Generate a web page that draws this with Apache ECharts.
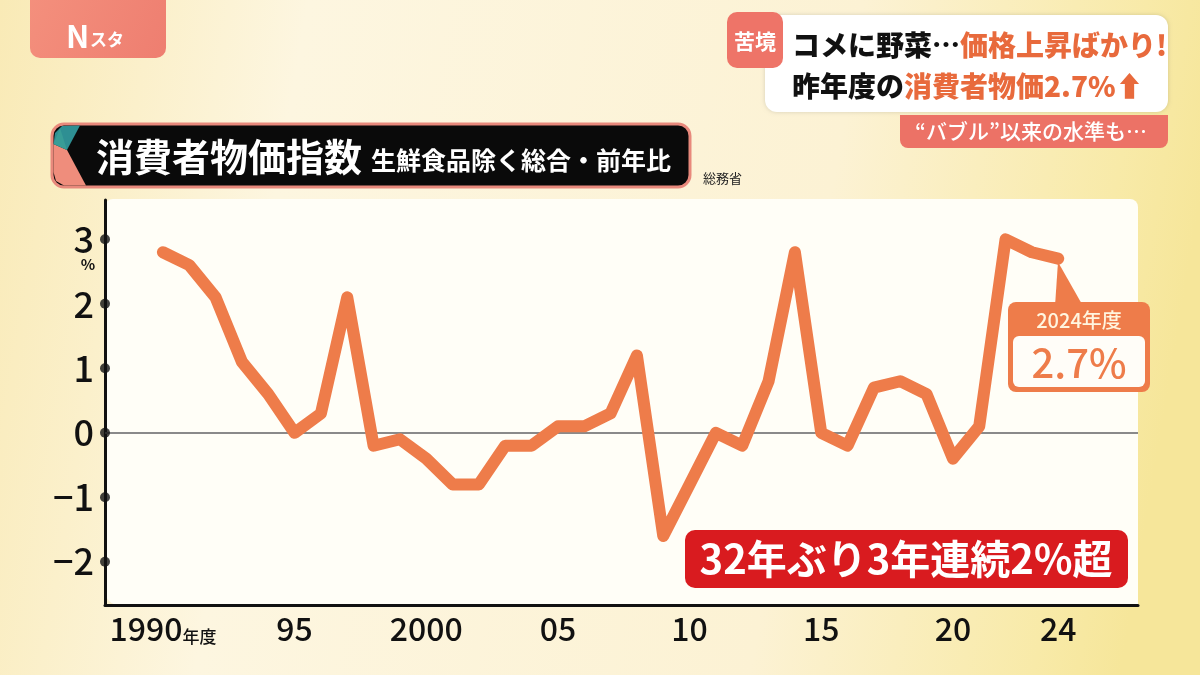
<!DOCTYPE html>
<html><head><meta charset="utf-8">
<script src="https://cdn.jsdelivr.net/npm/echarts@6/dist/echarts.min.js"></script>
<style>html,body{margin:0;padding:0;}#c{width:1200px;height:675px;}</style>
</head><body><div id="c"></div>
<script>
const years = [1990,1991,1992,1993,1994,1995,1996,1997,1998,1999,2000,2001,2002,2003,2004,2005,2006,2007,2008,2009,2010,2011,2012,2013,2014,2015,2016,2017,2018,2019,2020,2021,2022,2023,2024];
const cpiChange = [2.8,2.6,2.1,1.1,0.6,0.0,0.3,2.1,-0.2,-0.1,-0.4,-0.8,-0.8,-0.2,-0.2,0.1,0.1,0.3,1.2,-1.6,-0.8,0.0,-0.2,0.8,2.8,0.0,-0.2,0.7,0.8,0.6,-0.4,0.1,3.0,2.8,2.7];
const xTickValues = [1990,1995,2000,2005,2010,2015,2020,2024];
const xTickLabels = ['1990','95','2000','05','10','15','20','24'];
const yTickValues = [-2,-1,0,1,2,3];
const yTickLabels = ['−2','−1','0','1','2','3'];

const FONT = '"Noto Sans CJK JP", "Noto Sans", sans-serif';
const ORANGE = '#EE7C4A';
const chart = echarts.init(document.getElementById('c'), null, {renderer:'canvas'});
const X_MIN = 1987.8, X_MAX = 2027.03, Y_MIN = -2.67, Y_MAX = 3.61;

chart.setOption({
  backgroundColor: {
    type:'linear', x:0, y:0, x2:1, y2:0.3,
    colorStops:[
      {offset:0, color:'#F9EAB6'},
      {offset:0.25, color:'#FDF6E0'},
      {offset:0.7, color:'#FCF2D4'},
      {offset:0.93, color:'#F8EAA8'},
      {offset:1, color:'#F6E69A'}
    ]
  },
  textStyle:{fontFamily:FONT},
  animation:false,
  grid:{left:105, right:62, top:200, bottom:70, containLabel:false},
  xAxis:{
    type:'value', min:X_MIN, max:X_MAX,
    axisLine:{show:true, onZero:false, lineStyle:{color:'#111', width:3}},
    axisTick:{show:false},
    splitLine:{show:false},
    axisLabel:{
      customValues: xTickValues,
      margin: 8,
      color:'#111', fontSize:32, fontFamily:FONT, fontWeight:500,
      formatter: v => {
        const i = xTickValues.indexOf(Math.round(v));
        const t = i >= 0 ? xTickLabels[i] : '';
        return i === 0 ? t + '{s|年度}' : t;
      },
      rich:{ s:{fontSize:17, fontFamily:FONT, fontWeight:500, color:'#111', verticalAlign:'bottom', padding:[10,0,0,0]} }
    }
  },
  yAxis:{
    type:'value', min:Y_MIN, max:Y_MAX,
    axisLine:{show:true, onZero:false, lineStyle:{color:'#111', width:3}},
    axisTick:{show:false},
    splitLine:{show:false},
    axisLabel:{
      customValues: yTickValues,
      margin: 11,
      color:'#111', fontSize:36, fontFamily:FONT, fontWeight:500,
      formatter: v => {
        const i = yTickValues.indexOf(Math.round(v));
        return i >= 0 ? yTickLabels[i] : '';
      }
    }
  },
  graphic:[
    // plot background
    {type:'rect', z:-10, shape:{x:105, y:199, width:1033, height:406, r:[8,8,0,14]}, style:{fill:'#FFFEF7'}},
    // Nスタ logo
    {type:'rect', shape:{x:30, y:-12, width:136, height:70, r:10},
      style:{fill:{type:'linear',x:0,y:0,x2:1,y2:1,colorStops:[{offset:0,color:'#F4907D'},{offset:1,color:'#EE7E70'}]}}},
    {type:'text', style:{x:66, y:36, text:'N', fill:'#fff', font:'bold 31px '+FONT, textVerticalAlign:'middle'}},
    {type:'text', style:{x:90, y:40, text:'スタ', fill:'#fff', font:'bold 17px '+FONT, textVerticalAlign:'middle'}},
    // Title banner
    {type:'rect', shape:{x:52, y:124, width:638, height:63, r:12}, style:{fill:'#0A0A0A', stroke:'#E8897C', lineWidth:3}},
    {type:'polygon', shape:{points:[[53.5,144],[67,150],[86,185.5],[64,185.5],[56,181],[53.5,172]]}, style:{fill:'#EF8D7C'}},
    {type:'polygon', shape:{points:[[53.5,144],[55,133],[62,126],[80,125.5],[67,150]]}, style:{fill:'#2E8F93'}},
    {type:'polygon', shape:{points:[[53.5,144],[60,128],[67,150]]}, style:{fill:'#3FA69A', opacity:0.6}},
    {type:'text', style:{x:96, y:157, text:'消費者物価指数', fill:'#fff', font:'bold 38px '+FONT, textVerticalAlign:'middle'}},
    {type:'text', style:{x:371, y:160, text:'生鮮食品除く総合・前年比', fill:'#fff', font:'bold 25px '+FONT, textVerticalAlign:'middle'}},
    {type:'text', style:{x:703, y:178, text:'総務省', fill:'#222', font:'13px '+FONT, textVerticalAlign:'middle'}},
    // headline box
    {type:'rect', shape:{x:765, y:15, width:403, height:97, r:12}, style:{fill:'#FFFFFF', shadowBlur:4, shadowColor:'rgba(0,0,0,0.15)'}},
    {type:'rect', shape:{x:727, y:12, width:56, height:56, r:10}, style:{fill:'#EE7468'}},
    {type:'text', style:{x:755, y:41, text:'苦境', fill:'#fff', font:'bold 21px '+FONT, textAlign:'center', textVerticalAlign:'middle'}},
    {type:'text', style:{x:792, y:45, text:'{k|コメに野菜…}{o|価格上昇ばかり!}', textVerticalAlign:'middle',
      rich:{k:{fill:'#111', font:'900 28px '+FONT}, o:{fill:'#E86A3C', font:'900 28px '+FONT}}}},
    {type:'text', style:{x:792, y:86, text:'{k|昨年度の}{o|消費者物価2.7%⬆}', textVerticalAlign:'middle',
      rich:{k:{fill:'#111', font:'900 28px '+FONT}, o:{fill:'#E86A3C', font:'900 28px '+FONT}}}},
    {type:'rect', shape:{x:900, y:115, width:268, height:33, r:[0,0,8,8]}, style:{fill:'#EC7266'}},
    {type:'text', style:{x:1031, y:131, text:'“バブル”以来の水準も…', fill:'#fff', font:'500 21px '+FONT, textAlign:'center', textVerticalAlign:'middle'}},
    // % unit
    {type:'text', style:{x:88, y:264, text:'%', fill:'#111', font:'bold 15px '+FONT, textAlign:'center', textVerticalAlign:'middle'}},
    // 2024 callout
    {type:'polygon', z:20, shape:{points:[[1058,262],[1055,306],[1083,306]]}, style:{fill:ORANGE}},
    {type:'rect', z:20, shape:{x:1008, y:302, width:142, height:90, r:8}, style:{fill:ORANGE}},
    {type:'text', z:21, style:{x:1079, y:320, text:'2024年度', fill:'#FFF6E0', font:'500 20px '+FONT, textAlign:'center', textVerticalAlign:'middle'}},
    {type:'rect', z:21, shape:{x:1013, y:336, width:132, height:51, r:6}, style:{fill:'#FFFDF8'}},
    {type:'text', z:22, style:{x:1079, y:363, text:'2.7%', fill:ORANGE, font:'500 40px '+FONT, textAlign:'center', textVerticalAlign:'middle'}},
    // red annotation box
    {type:'rect', z:20, shape:{x:685, y:530, width:443, height:58, r:10}, style:{fill:'#D91B1F'}},
    {type:'text', z:21, style:{x:906, y:559, text:'32年ぶり3年連続2%超', fill:'#fff', font:'bold 40px '+FONT, textAlign:'center', textVerticalAlign:'middle'}}
  ],
  series:[
    {
      type:'line', name:'CPI', z:5,
      data: years.map((y,i)=>[y, cpiChange[i]]),
      showSymbol:false, symbol:'none',
      lineStyle:{color:ORANGE, width:12, cap:'round', join:'round'},
      markLine:{
        silent:true, symbol:'none', z:1,
        label:{show:false},
        lineStyle:{color:'#8A8A8A', width:2, type:'solid'},
        data:[{yAxis:0}]
      }
    },
    {
      type:'scatter', z:6, clip:false,
      data: yTickValues.map(v=>[X_MIN, v]),
      symbolSize:10, itemStyle:{color:'#111'}
    }
  ]
});
</script></body></html>
